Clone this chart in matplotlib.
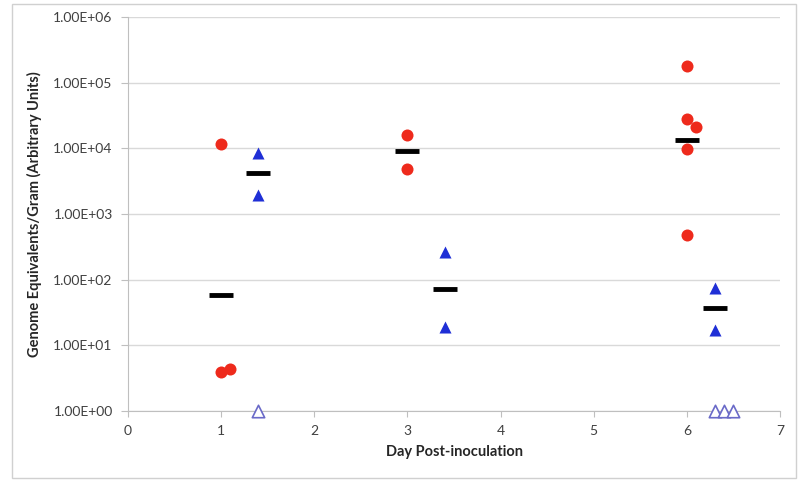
import matplotlib
matplotlib.use("Agg")
import matplotlib.pyplot as plt
from matplotlib.patches import Rectangle
from matplotlib.ticker import FixedLocator

plt.rcParams['font.family'] = ['Lato', 'DejaVu Sans']

# Red circles (group A)
red_x = [1.0, 1.0, 1.1, 3.0, 3.0, 6.0, 6.0, 6.1, 6.0, 6.0]
red_y = [1.15e4, 3.9, 4.3, 1.6e4, 4.8e3, 1.8e5, 2.8e4, 2.1e4, 9.8e3, 4.8e2]

# Blue filled triangles (group B)
blue_x = [1.4, 1.4, 3.4, 3.4, 6.3, 6.3]
blue_y = [8.5e3, 1.95e3, 2.65e2, 19.0, 75.0, 17.0]

# Open triangles (below detection)
open_x = [1.4, 6.3, 6.4, 6.5]
open_y = [1.0, 1.0, 1.0, 1.0]

# Medians (black bars)
med_x = [1.0, 1.4, 3.0, 3.4, 6.0, 6.3]
med_y = [58.0, 4.2e3, 9.0e3, 72.0, 1.35e4, 37.0]

yticks = [1e0, 1e1, 1e2, 1e3, 1e4, 1e5, 1e6]
ytick_labels = ["1.00E+00", "1.00E+01", "1.00E+02", "1.00E+03",
                "1.00E+04", "1.00E+05", "1.00E+06"]
xticks = [0, 1, 2, 3, 4, 5, 6, 7]

fig = plt.figure(figsize=(8, 4.82), dpi=100)
ax = fig.add_axes([0.16, 0.1473, 0.815, 0.8177])

# outer frame
fig.patches.append(Rectangle((12/800, 4/482), (796-12)/800, (478-4)/482,
                             transform=fig.transFigure, fill=False,
                             edgecolor='#d0d0d0', linewidth=1.0))

ax.set_yscale('log')
ax.set_ylim(1, 1e6)
ax.set_xlim(0, 7)
ax.yaxis.set_major_locator(FixedLocator(yticks))
ax.yaxis.set_minor_locator(FixedLocator([]))
ax.set_yticklabels(ytick_labels)
ax.set_xticks(xticks)
ax.set_xticklabels([str(t) for t in xticks])

ax.grid(axis='y', color='#d9d9d9', linewidth=1.0)
ax.set_axisbelow(True)
for s in ['top', 'right']:
    ax.spines[s].set_visible(False)
ax.spines['left'].set_color('#bfbfbf')
ax.spines['bottom'].set_color('#bfbfbf')
ax.tick_params(axis='y', length=5, color='#bfbfbf', labelsize=10, labelcolor='#404040', pad=6)
ax.tick_params(axis='x', length=4, color='#bfbfbf', labelsize=10, labelcolor='#404040', pad=6)

ax.scatter(red_x, red_y, s=75, color='#ee2a1c', marker='o', zorder=3, linewidths=0, clip_on=False)
ax.scatter(blue_x, blue_y, s=75, color='#1f2fd6', marker='^', zorder=3, linewidths=0, clip_on=False)
ax.scatter(open_x, open_y, s=80, facecolors='white', edgecolors='#6a6ac8', marker='^', zorder=5,
           linewidths=1.2, clip_on=False)
ax.plot(med_x, med_y, linestyle='none', marker='_', markersize=17, markeredgewidth=3.5,
        color='black', zorder=4, clip_on=False)

ax.set_xlabel('Day Post-inoculation', fontsize=10.5, fontweight='bold', color='#262626', labelpad=6)
ax.set_ylabel('Genome Equivalents/Gram (Arbitrary Units)', fontsize=10.5, fontweight='bold',
              color='#262626', labelpad=8)

fig.savefig('out.png', dpi=100)
